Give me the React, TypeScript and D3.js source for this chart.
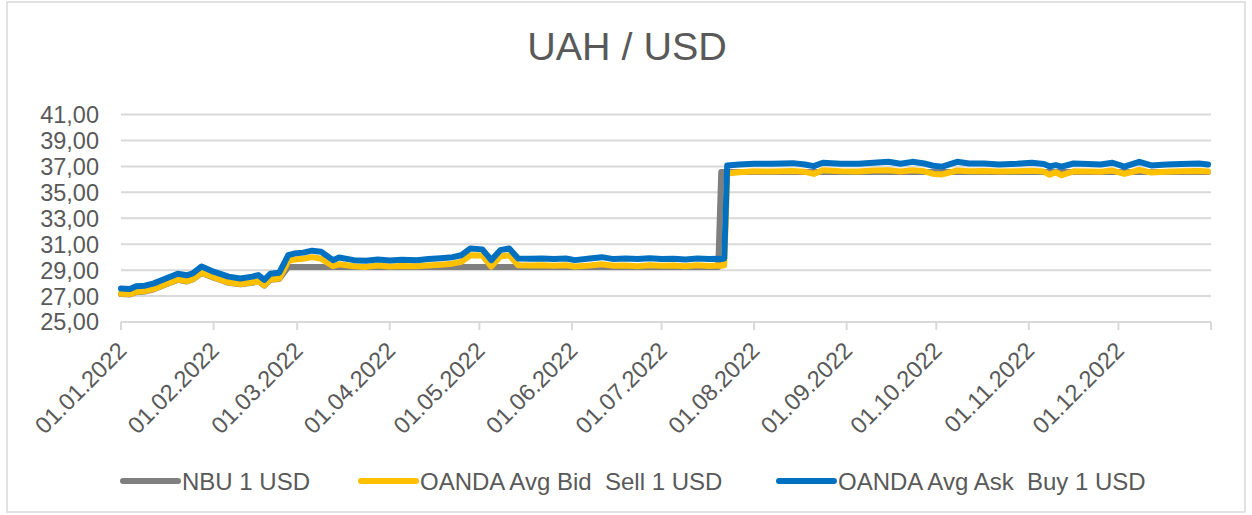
import React from 'react';
import * as d3 from 'd3';

// OANDA bid/ask
const oandaDates = [
  '2022-01-01', '2022-01-04', '2022-01-06', '2022-01-09', '2022-01-12', '2022-01-16', '2022-01-20', '2022-01-23',
  '2022-01-25', '2022-01-28', '2022-02-01', '2022-02-04', '2022-02-06', '2022-02-10', '2022-02-14', '2022-02-16',
  '2022-02-18', '2022-02-20', '2022-02-23', '2022-02-26', '2022-02-28', '2022-03-03', '2022-03-06', '2022-03-09',
  '2022-03-13', '2022-03-15', '2022-03-20', '2022-03-24', '2022-03-28', '2022-04-01', '2022-04-05', '2022-04-10',
  '2022-04-14', '2022-04-18', '2022-04-22', '2022-04-25', '2022-04-28', '2022-05-02', '2022-05-05', '2022-05-08',
  '2022-05-11', '2022-05-14', '2022-05-18', '2022-05-22', '2022-05-26', '2022-05-30', '2022-06-02', '2022-06-07',
  '2022-06-11', '2022-06-15', '2022-06-19', '2022-06-23', '2022-06-27', '2022-07-01', '2022-07-05', '2022-07-09',
  '2022-07-13', '2022-07-17', '2022-07-20', '2022-07-21', '2022-07-22', '2022-07-23', '2022-07-27', '2022-08-01',
  '2022-08-07', '2022-08-14', '2022-08-18', '2022-08-21', '2022-08-24', '2022-08-30', '2022-09-05', '2022-09-10',
  '2022-09-15', '2022-09-19', '2022-09-23', '2022-09-27', '2022-09-30', '2022-10-03', '2022-10-08', '2022-10-12',
  '2022-10-17', '2022-10-22', '2022-10-28', '2022-11-02', '2022-11-06', '2022-11-08', '2022-11-10', '2022-11-12',
  '2022-11-16', '2022-11-21', '2022-11-25', '2022-11-29', '2022-12-03', '2022-12-08', '2022-12-12', '2022-12-17',
  '2022-12-22', '2022-12-28', '2022-12-31',
];

const askValues = [
  27.58, 27.55, 27.75, 27.8, 27.98, 28.35, 28.72, 28.6,
  28.75, 29.28, 28.88, 28.65, 28.5, 28.36, 28.5, 28.62,
  28.25, 28.72, 28.8, 30.15, 30.28, 30.35, 30.5, 30.42,
  29.77, 29.97, 29.77, 29.72, 29.82, 29.75, 29.8, 29.77,
  29.85, 29.92, 30.0, 30.15, 30.67, 30.6, 29.77, 30.54,
  30.67, 29.9, 29.88, 29.9, 29.85, 29.9, 29.77, 29.9,
  30.0, 29.85, 29.9, 29.85, 29.92, 29.85, 29.88, 29.82,
  29.9, 29.85, 29.88, 29.85, 29.9, 37.07, 37.15, 37.2,
  37.2, 37.25, 37.15, 37.02, 37.28, 37.2, 37.2, 37.28,
  37.35, 37.2, 37.35, 37.22, 37.05, 36.98, 37.35, 37.22,
  37.22, 37.15, 37.2, 37.28, 37.18, 37.0, 37.1, 36.98,
  37.22, 37.18, 37.15, 37.28, 36.98, 37.35, 37.07, 37.15,
  37.18, 37.22, 37.15,
];

const bidValues = [
  27.18, 27.15, 27.32, 27.38, 27.55, 27.92, 28.28, 28.15,
  28.3, 28.8, 28.45, 28.2, 28.05, 27.92, 28.05, 28.18,
  27.82, 28.28, 28.35, 29.7, 29.82, 29.88, 30.0, 29.88,
  29.3, 29.45, 29.3, 29.25, 29.35, 29.28, 29.32, 29.3,
  29.36, 29.42, 29.5, 29.65, 30.15, 30.12, 29.28, 30.05,
  30.15, 29.38, 29.35, 29.38, 29.33, 29.38, 29.28, 29.36,
  29.45, 29.33, 29.36, 29.3, 29.38, 29.33, 29.35, 29.3,
  29.38, 29.32, 29.35, 29.33, 29.38, 36.45, 36.55, 36.62,
  36.6, 36.65, 36.58, 36.42, 36.7, 36.62, 36.6, 36.68,
  36.7, 36.6, 36.7, 36.62, 36.42, 36.38, 36.68, 36.62,
  36.65, 36.6, 36.62, 36.66, 36.6, 36.35, 36.55, 36.32,
  36.62, 36.6, 36.58, 36.68, 36.42, 36.72, 36.52, 36.58,
  36.62, 36.65, 36.6,
];

// NBU official rate
const nbuDates = [
  '2022-01-01', '2022-01-04', '2022-01-06', '2022-01-09', '2022-01-12', '2022-01-16', '2022-01-20', '2022-01-23',
  '2022-01-25', '2022-01-28', '2022-02-01', '2022-02-04', '2022-02-06', '2022-02-10', '2022-02-14', '2022-02-16',
  '2022-02-18', '2022-02-20', '2022-02-23', '2022-02-26', '2022-07-20', '2022-07-21', '2022-12-31',
];
const nbuValues = [
  27.15, 27.12, 27.3, 27.35, 27.52, 27.9, 28.25, 28.12,
  28.28, 28.78, 28.42, 28.18, 28.02, 27.9, 28.02, 28.15,
  27.8, 28.25, 28.32, 29.25, 29.25, 36.57, 36.57,
];

const yTicks = [25, 27, 29, 31, 33, 35, 37, 39, 41];
const monthLabels = [
  '01.01.2022', '01.02.2022', '01.03.2022', '01.04.2022', '01.05.2022', '01.06.2022',
  '01.07.2022', '01.08.2022', '01.09.2022', '01.10.2022', '01.11.2022', '01.12.2022',
];
const seriesNames = ['NBU 1 USD', 'OANDA Avg Bid  Sell 1 USD', 'OANDA Avg Ask  Buy 1 USD'];
const seriesColors = ['#7f7f7f', '#ffc000', '#0070c0'];

const W = 1252;
const H = 515;
const FONT = '"Liberation Sans", Arial, sans-serif';
const TEXT = '#595959';
const GRID = '#d9d9d9';

const parse = d3.timeParse('%Y-%m-%d');
const uaFormat = d3.formatLocale({ decimal: ',', thousands: ' ', grouping: [3], currency: ['', ''] }).format('.2f');

const App = () => {
  const x = d3.scaleTime()
    .domain([new Date(2022, 0, 1), new Date(2023, 0, 1)])
    .range([121, 1211]);
  const y = d3.scaleLinear().domain([25, 41]).range([322, 114.5]);

  const line = d3.line<[Date, number]>()
    .x((d) => x(d[0]))
    .y((d) => y(d[1]));

  const toPts = (dates: string[], vals: number[]) =>
    dates.map((d, i) => [parse(d) as Date, vals[i]] as [Date, number]);

  const series = [
    toPts(nbuDates, nbuValues),
    toPts(oandaDates, bidValues),
    toPts(oandaDates, askValues),
  ];

  const monthTicks = x.ticks(d3.timeMonth.every(1)!);
  const legendX = [123, 361, 779];
  const legendY = 481;

  return (
    <div style={{ position: 'absolute', left: 0, top: 0 }}>
      <svg width={W} height={H} style={{ display: 'block', background: '#fff' }}>
        <rect x={7} y={2} width={1238} height={510} fill="#fff" stroke={GRID} strokeWidth={1.5} />

        <text x={627} y={60} textAnchor="middle" fontFamily={FONT} fontSize={39.5} fill={TEXT}>
          UAH / USD
        </text>

        {yTicks.map((t) => (
          <g key={t}>
            <line x1={121} x2={1211} y1={y(t)} y2={y(t)} stroke={GRID} strokeWidth={2} />
            <text x={99} y={y(t)} dy="0.36em" textAnchor="end" fontFamily={FONT} fontSize={23.5} fill={TEXT}>
              {uaFormat(t)}
            </text>
          </g>
        ))}

        {monthTicks.map((t, i) => (
          <g key={i}>
            <line x1={x(t)} x2={x(t)} y1={y(25)} y2={y(25) + 8} stroke={GRID} strokeWidth={2} />
            {monthLabels[i] && (
              <text
                transform={`translate(${x(t) + 7},${y(25) + 30}) rotate(-45)`}
                textAnchor="end"
                fontFamily={FONT}
                fontSize={23.5}
                fill={TEXT}
              >
                {monthLabels[i]}
              </text>
            )}
          </g>
        ))}

        {series.map((pts, i) => (
          <path
            key={i}
            d={line(pts) || ''}
            fill="none"
            stroke={seriesColors[i]}
            strokeWidth={6}
            strokeLinejoin="round"
            strokeLinecap="round"
          />
        ))}

        {seriesNames.map((name, i) => (
          <g key={name} transform={`translate(${legendX[i]},${legendY})`}>
            <line x1={0} x2={55} y1={0} y2={0} stroke={seriesColors[i]} strokeWidth={6} strokeLinecap="round" />
            <text x={59} y={0} dy="0.36em" fontFamily={FONT} fontSize={24} fill={TEXT} style={{ whiteSpace: 'pre' }}>
              {name}
            </text>
          </g>
        ))}
      </svg>
    </div>
  );
};

export default App;
